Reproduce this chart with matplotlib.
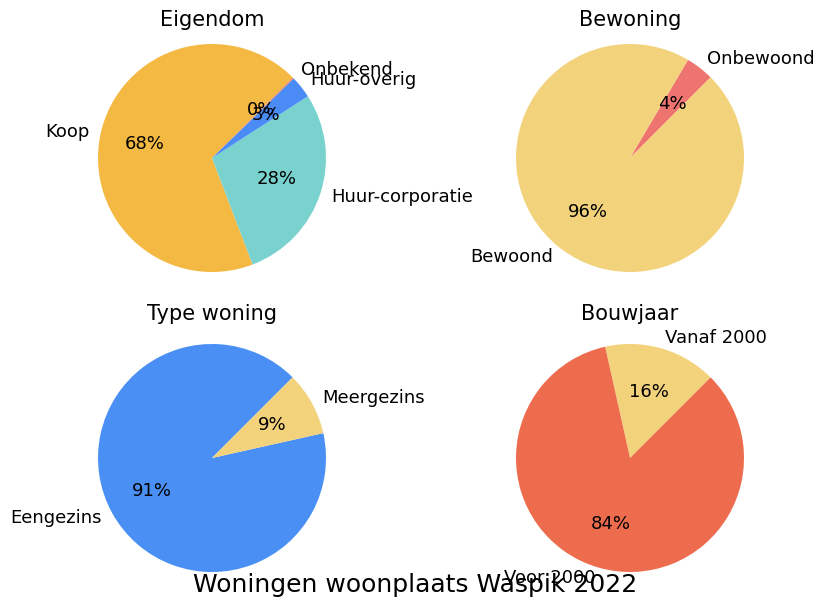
import matplotlib
matplotlib.use('Agg')
import matplotlib.pyplot as plt

# Eigendom
eig_labels = ['Koop', 'Huur-corporatie', 'Huur-overig', 'Onbekend']
eig_values = [68.3, 28.3, 3.2, 0.2]
eig_colors = ['#F4B942', '#79D2CE', '#4A8BF5', '#F08A5D']

# Bewoning
bew_labels = ['Onbewoond', 'Bewoond']
bew_values = [4, 96]
bew_colors = ['#EE7470', '#F3D27C']

# Type woning
type_labels = ['Eengezins', 'Meergezins']
type_values = [91, 9]
type_colors = ['#4A8FF4', '#F3D27C']

# Bouwjaar
bj_labels = ['Vanaf 2000', 'Voor 2000']
bj_values = [16, 84]
bj_colors = ['#F3D27C', '#EE6C4E']

W, H = 817, 602
R = 114  # pie radius in px

fig = plt.figure(figsize=(W / 100, H / 100), dpi=100)

def add_pie(cx, cy, title, values, labels, colors, pad):
    w = 2.5 * R
    h = 2.2 * R
    ax = fig.add_axes([(cx - w / 2) / W, 1 - (cy + h / 2) / H, w / W, h / H])
    ax.pie(values, labels=labels, colors=colors, autopct='%1.0f%%',
           startangle=45, textprops={'fontsize': 13})
    ax.set_xlim(-1.25, 1.25)
    ax.set_ylim(-1.1, 1.1)
    ax.set_aspect('equal', adjustable='datalim')
    ax.set_title(title, fontsize=15, pad=pad)
    return ax

add_pie(212, 158, 'Eigendom', eig_values, eig_labels, eig_colors, 5)
add_pie(630, 158, 'Bewoning', bew_values, bew_labels, bew_colors, 5)
add_pie(212, 458, 'Type woning', type_values, type_labels, type_colors, 9)
add_pie(630, 458, 'Bouwjaar', bj_values, bj_labels, bj_colors, 9)

fig.text(415 / W, 1 - 585 / H, 'Woningen woonplaats Waspik 2022', ha='center', va='center', fontsize=18)

fig.savefig('out.png', dpi=100)
